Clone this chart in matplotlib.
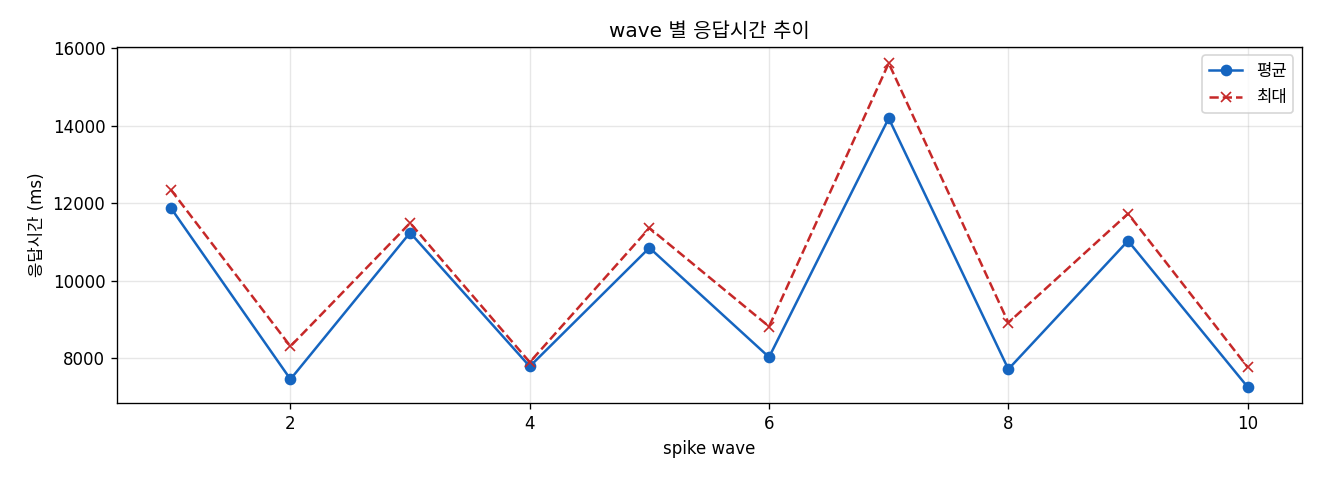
import matplotlib
matplotlib.use("Agg")
import matplotlib.pyplot as plt

plt.rcParams["font.family"] = ["DejaVu Sans", "Noto Sans CJK KR"]
plt.rcParams["axes.unicode_minus"] = False

waves = [1, 2, 3, 4, 5, 6, 7, 8, 9, 10]
avg_ms = [11880, 7460, 11240, 7790, 10850, 8030, 14190, 7720, 11030, 7260]
max_ms = [12350, 8310, 11490, 7900, 11360, 8820, 15610, 8920, 11730, 7770]

fig, ax = plt.subplots(figsize=(11, 4), dpi=120)
ax.plot(waves, avg_ms, marker="o", color="#1565C0", linestyle="-",
        linewidth=1.5, markersize=6, label="평균")
ax.plot(waves, max_ms, marker="x", color="#C62828", linestyle="--",
        linewidth=1.5, markersize=6, label="최대")
ax.set_title("wave 별 응답시간 추이", fontsize=12)
ax.set_xlabel("spike wave")
ax.set_ylabel("응답시간 (ms)")
ax.grid(True, alpha=0.3)
ax.legend(loc="upper right")
fig.subplots_adjust(left=0.0886, right=0.986, top=0.902, bottom=0.160)
fig.savefig("out.png", dpi=120)
